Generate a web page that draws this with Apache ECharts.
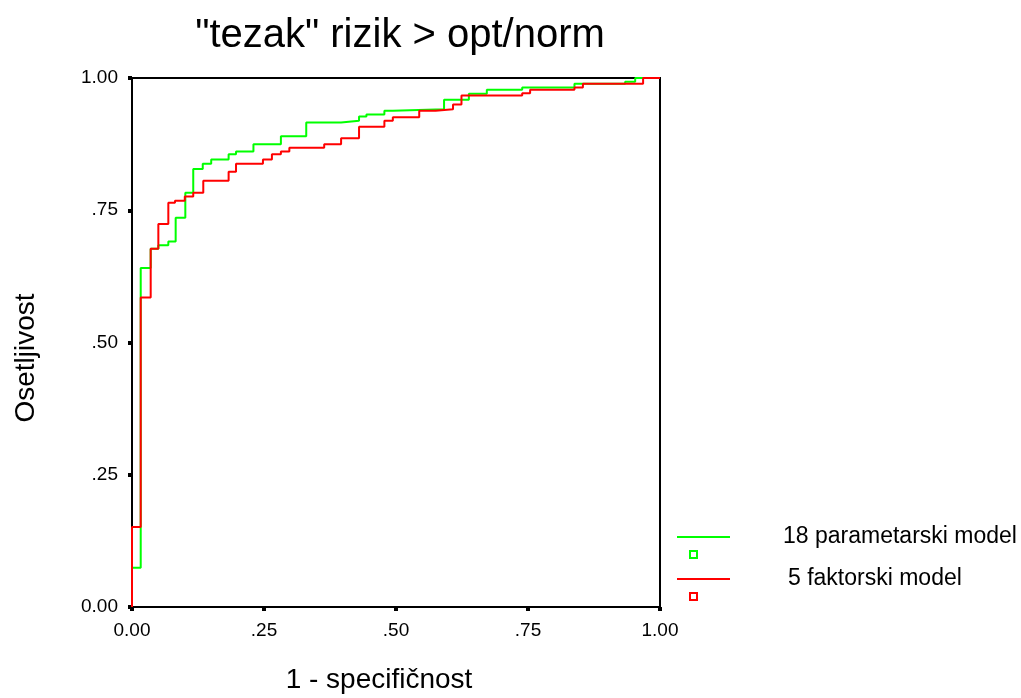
<!DOCTYPE html>
<html>
<head>
<meta charset="UTF-8">
<title>ROC</title>
<style>
  html, body { margin: 0; padding: 0; background: #fff; }
  #chart { width: 1021px; height: 698px; }
</style>
</head>
<body>
<div id="chart"></div>
<script src="https://cdn.jsdelivr.net/npm/echarts@6/dist/echarts.min.js"></script>
<script>
// naslov i nazivi osi
var chartTitle = '"tezak" rizik > opt/norm';
var xName = '1 - specifičnost';
var yName = 'Osetljivost';
var seriesNames = ['18 parametarski model', '5 faktorski model'];
var seriesColors = ['#00ff00', '#ff0000'];

// ROC tocke [1 - specificnost, osetljivost]
var greenX = [0, 0, 0.0165, 0.0354, 0.0499, 0.0688, 0.0827, 0.101, 0.116, 0.134, 0.150, 0.183, 0.197, 0.230,
  0.282, 0.330, 0.396, 0.430, 0.444, 0.478, 0.494, 0.591, 0.638, 0.672, 0.739, 0.838, 0.934, 0.953, 1];
var greenY = [0, 0.074, 0.641, 0.677, 0.684, 0.691, 0.736, 0.783, 0.828, 0.838, 0.846, 0.856, 0.861, 0.875,
  0.890, 0.916, 0.919, 0.927, 0.931, 0.938, 0.941, 0.959, 0.970, 0.978, 0.982, 0.989, 0.993, 1, 1];

var redX = [0, 0, 0.0165, 0.0354, 0.0499, 0.0688, 0.0814, 0.100, 0.116, 0.135, 0.183, 0.197, 0.248,
  0.265, 0.282, 0.298, 0.364, 0.396, 0.430, 0.478, 0.494, 0.544, 0.575, 0.608, 0.624, 0.739, 0.754, 0.838, 0.854, 0.968, 1];
var redY = [0, 0.151, 0.585, 0.677, 0.724, 0.764, 0.768, 0.776, 0.783, 0.806, 0.823, 0.838, 0.846,
  0.856, 0.861, 0.868, 0.875, 0.886, 0.908, 0.919, 0.926, 0.938, 0.941, 0.950, 0.967, 0.971, 0.978, 0.982, 0.989, 1, 1];

function pairs(xs, ys) {
  var out = [];
  for (var i = 0; i < xs.length; i++) out.push([xs[i], ys[i]]);
  return out;
}

function tickFmt(v) {
  if (v === 0) return '0.00';
  if (v === 1) return '1.00';
  return '.' + Math.round(v * 100);
}

var FONT = 'Liberation Sans, Arial, sans-serif';
var chart = echarts.init(document.getElementById('chart'));

var axisCommon = {
  type: 'value',
  min: 0, max: 1, interval: 0.25,
  splitLine: { show: false },
  axisLine: { show: true, lineStyle: { color: '#000', width: 2 } },
  axisTick: { show: true, length: 4, lineStyle: { color: '#000', width: 4 } },
  axisLabel: { color: '#000', fontSize: 19, fontFamily: FONT, formatter: tickFmt, margin: 14 }
};

var option = {
  backgroundColor: '#fff',
  animation: false,
  grid: {
    left: 132, right: 361, top: 78, bottom: 91,
    show: true, borderColor: '#000', borderWidth: 2
  },
  xAxis: axisCommon,
  yAxis: axisCommon,
  series: [
    {
      name: seriesNames[0], type: 'line', step: 'end', symbol: 'none',
      data: pairs(greenX, greenY),
      lineStyle: { color: seriesColors[0], width: 2 }, z: 2
    },
    {
      name: seriesNames[1], type: 'line', step: 'end', symbol: 'none',
      data: pairs(redX, redY),
      lineStyle: { color: seriesColors[1], width: 2 }, z: 3
    }
  ],
  graphic: [
    { // naslov
      type: 'text', x: 400, y: 36,
      style: { text: chartTitle, fill: '#000', font: '40px ' + FONT, textAlign: 'center', textVerticalAlign: 'middle' }
    },
    { // naziv x ose
      type: 'text', x: 379, y: 680,
      style: { text: xName, fill: '#000', font: '28px ' + FONT, textAlign: 'center', textVerticalAlign: 'middle' }
    },
    { // naziv y ose
      type: 'text', x: 26, y: 358, rotation: Math.PI / 2,
      style: { text: yName, fill: '#000', font: '28px ' + FONT, textAlign: 'center', textVerticalAlign: 'middle' }
    }
  ]
};

// legenda: linija, kvadratic ispod, tekst desno
var legendRows = [537, 579];
var legendTextX = [783, 788];
for (var i = 0; i < seriesNames.length; i++) {
  var y = legendRows[i];
  option.graphic.push({
    type: 'line', shape: { x1: 677, y1: y, x2: 730, y2: y },
    style: { stroke: seriesColors[i], lineWidth: 2 }
  });
  option.graphic.push({
    type: 'rect', shape: { x: 690, y: y + 14, width: 7, height: 7 },
    style: { fill: '#fff', stroke: seriesColors[i], lineWidth: 2 }
  });
  option.graphic.push({
    type: 'text', x: legendTextX[i], y: y,
    style: { text: seriesNames[i], fill: '#000', font: '23px ' + FONT, textVerticalAlign: 'middle' }
  });
}

chart.setOption(option);
</script>
</body>
</html>
